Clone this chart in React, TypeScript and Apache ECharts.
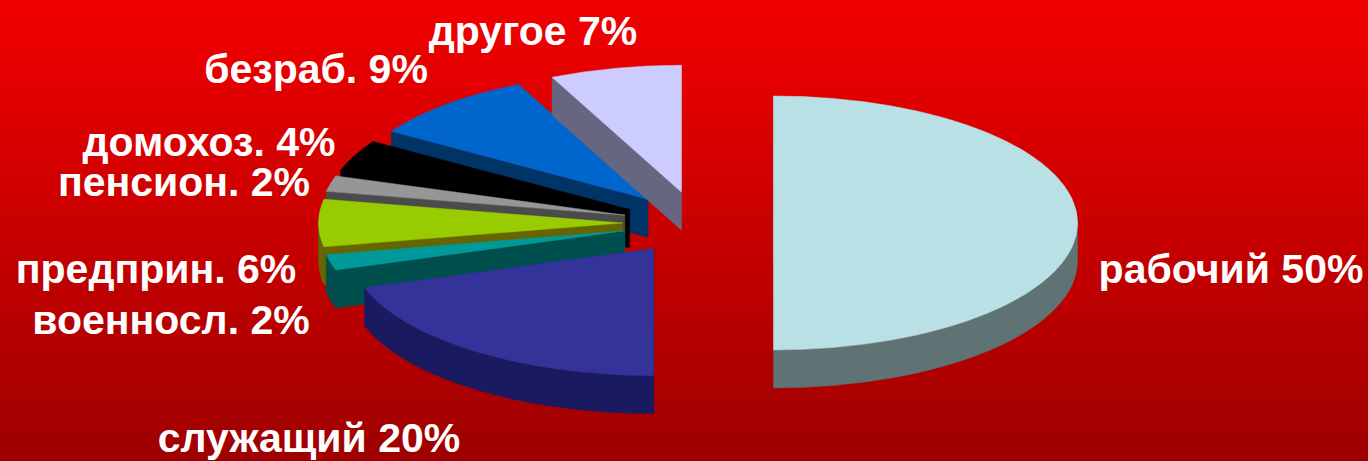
import React, { useEffect, useRef } from "react";
import * as echarts from "echarts";

const categories = ["рабочий", "служащий", "военносл.", "предприн.", "пенсион.", "домохоз.", "безраб.", "другое"];
const values = [50, 20, 2, 6, 2, 4, 9, 7];
const topColors = ["#B9E0E4", "#333399", "#009999", "#99CC00", "#969696", "#000000", "#0066CC", "#CCCCFF"];
const wallColors = ["#5F7274", "#1A1A60", "#004F4F", "#666600", "#4B4B4B", "#000000", "#003366", "#666680"];
// Paint order, back to front (indices into categories)
const paintOrder = [0, 6, 7, 5, 4, 3, 2, 1];
// Label centres in pixels
const labelCentres: [number, number][] = [
  [1231, 269], [309, 438], [171, 320], [156, 269], [184, 182], [209, 142], [316, 69], [533, 31],
];

const CX = 698, CY = 223, RX = 304, RY = 127, DEPTH = 38, EXPLODE = 75.5;
const total = values.reduce((a, b) => a + b, 0);

function renderItem(params: any, api: any) {
  const i = params.dataIndex;
  const value = api.value(0);
  let before = 0;
  for (let k = 0; k < i; k++) before += values[k];
  const a0 = (before / total) * Math.PI * 2;
  const a1 = ((before + value) / total) * Math.PI * 2;
  const mid = (a0 + a1) / 2;
  const ox = CX + EXPLODE * Math.sin(mid);
  const oy = CY - EXPLODE * (RY / RX) * Math.cos(mid);
  const pt = (a: number, d = 0) => [ox + RX * Math.sin(a), oy - RY * Math.cos(a) + d];
  const f = (p: number[]) => `${p[0].toFixed(2)} ${p[1].toFixed(2)}`;
  const large = a1 - a0 > Math.PI ? 1 : 0;
  const order = paintOrder.indexOf(i);
  const children: any[] = [];
  const fill = wallColors[i];
  // Cut face at the start angle
  const cut = (a: number, z: number) => ({
    type: "path",
    z2: z,
    shape: { pathData: `M${f([ox, oy])} L${f(pt(a))} L${f(pt(a, DEPTH))} L${f([ox, oy + DEPTH])} Z` },
    style: { fill, stroke: fill, lineWidth: 0.5 },
  });
  children.push(cut(a0, order * 10));
  // Curved rim, only where it faces the viewer
  const r0 = Math.max(a0, Math.PI / 2);
  const r1 = Math.min(a1, (Math.PI * 3) / 2);
  if (r1 > r0) {
    children.push({
      type: "path",
      z2: order * 10 + 1,
      shape: {
        pathData: `M${f(pt(r0))} A${RX} ${RY} 0 0 1 ${f(pt(r1))} L${f(pt(r1, DEPTH))} A${RX} ${RY} 0 0 0 ${f(pt(r0, DEPTH))} Z`,
      },
      style: { fill, stroke: fill, lineWidth: 0.5 },
    });
  }
  children.push({
    type: "path",
    z2: order * 10 + 2,
    shape: { pathData: `M${f([ox, oy])} L${f(pt(a0))} A${RX} ${RY} 0 ${large} 1 ${f(pt(a1))} Z` },
    style: { fill: topColors[i], stroke: topColors[i], lineWidth: 0.5 },
  });
  const [lx, ly] = labelCentres[i];
  children.push({
    type: "text",
    z2: 200,
    x: lx,
    y: ly,
    scaleX: 1.025,
    style: {
      text: `${categories[i]} ${value}%`,
      fill: "#FFFFFF",
      font: 'bold 40px "Liberation Sans", Arial, sans-serif',
      align: "center",
      verticalAlign: "middle",
    },
  });
  return { type: "group", children };
}

export default function App() {
  const ref = useRef<HTMLDivElement>(null);
  useEffect(() => {
    document.body.style.margin = "0";
    const chart = echarts.init(ref.current!, null, { renderer: "svg" });
    chart.setOption({
      animation: false,
      backgroundColor: new echarts.graphic.LinearGradient(0, 0, 0, 1, [
        { offset: 0, color: "#F20000" },
        { offset: 1, color: "#9E0000" },
      ]),
      series: [
        {
          type: "custom",
          coordinateSystem: "none",
          renderItem,
          data: values.map((v, i) => ({ name: categories[i], value: [v] })),
          silent: true,
        },
      ],
    });
    return () => chart.dispose();
  }, []);
  return <div ref={ref} style={{ position: "absolute", left: 0, top: 0, width: 1368, height: 461 }} />;
}
